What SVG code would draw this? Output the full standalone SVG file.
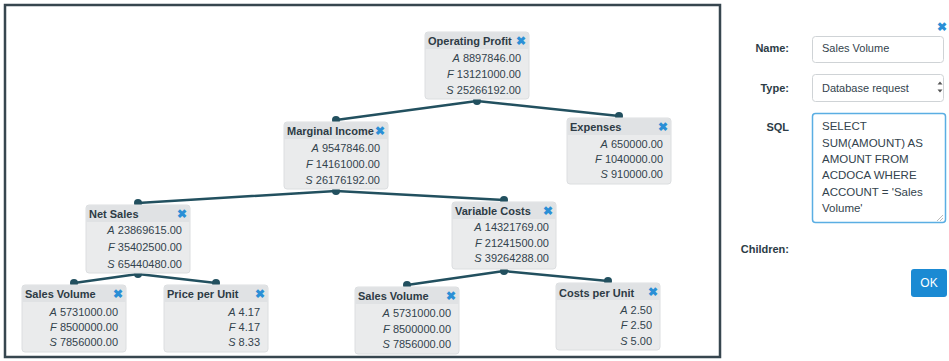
<svg xmlns="http://www.w3.org/2000/svg" width="949" height="361" viewBox="0 0 949 361">
<style>
text{font-family:"Liberation Sans",Arial,sans-serif;font-size:11px;fill:#33434d}
.box{fill:#eaebec;stroke:#dcdee0;stroke-width:1}
.hdr{fill:#e0e2e4}
.h{font-weight:bold;fill:#2d3b45}
.v{text-anchor:end}
.x{font-weight:bold;fill:#2a8fd6;font-size:12px;text-anchor:middle}
.i{font-style:italic}
.ln{stroke:#22505f;stroke-width:2.5;fill:none;stroke-linecap:round}
.dot{fill:#22505f}
.lbl{font-weight:bold;text-anchor:end;fill:#2c3c46}
.inp{fill:#fff;stroke:#cfd3d6;stroke-width:1}
</style>
<rect x="5" y="5" width="715" height="352" fill="#fff" stroke="#37464f" stroke-width="2.5"/>
<g id="connectors">
<path class="ln" d="M477 101L336 120M477 101L619 116M336 191L138 203M336 191L504 200M138 274L74 283M138 274L216 283M504 271L407 285M504 271L608 281"/>
<circle class="dot" cx="477" cy="101" r="4"/><circle class="dot" cx="336" cy="120" r="4"/><circle class="dot" cx="619" cy="116" r="4"/>
<circle class="dot" cx="336" cy="191" r="4"/><circle class="dot" cx="138" cy="203" r="4"/><circle class="dot" cx="504" cy="200" r="4"/>
<circle class="dot" cx="138" cy="274" r="4"/><circle class="dot" cx="74" cy="283" r="4"/><circle class="dot" cx="216" cy="283" r="4"/>
<circle class="dot" cx="504" cy="271" r="4"/><circle class="dot" cx="407" cy="285" r="4"/><circle class="dot" cx="608" cy="281" r="4"/>
</g>
<g id="n-op" transform="translate(425,32)">
<rect class="box" width="104" height="67" rx="3"/><path class="hdr" d="M3 0.5H101a2.5 2.5 0 0 1 2.5 2.5V17H0.5V3a2.5 2.5 0 0 1 2.5-2.5z"/>
<text class="h" x="3" y="13">Operating Profit</text><text class="x" x="96" y="13">✖</text>
<text class="v" x="96" y="30"><tspan class="i">A</tspan> 8897846.00</text>
<text class="v" x="96" y="46"><tspan class="i">F</tspan> 13121000.00</text>
<text class="v" x="96" y="62"><tspan class="i">S</tspan> 25266192.00</text>
</g>
<g id="n-mi" transform="translate(284,122)">
<rect class="box" width="104" height="67" rx="3"/><path class="hdr" d="M3 0.5H101a2.5 2.5 0 0 1 2.5 2.5V17H0.5V3a2.5 2.5 0 0 1 2.5-2.5z"/>
<text class="h" x="3" y="13">Marginal Income</text><text class="x" x="96" y="13">✖</text>
<text class="v" x="96" y="30"><tspan class="i">A</tspan> 9547846.00</text>
<text class="v" x="96" y="46"><tspan class="i">F</tspan> 14161000.00</text>
<text class="v" x="96" y="62"><tspan class="i">S</tspan> 26176192.00</text>
</g>
<g id="n-ex" transform="translate(567,118)">
<rect class="box" width="104" height="66" rx="3"/><path class="hdr" d="M3 0.5H101a2.5 2.5 0 0 1 2.5 2.5V17H0.5V3a2.5 2.5 0 0 1 2.5-2.5z"/>
<text class="h" x="3" y="13">Expenses</text><text class="x" x="96" y="13">✖</text>
<text class="v" x="96" y="30"><tspan class="i">A</tspan> 650000.00</text>
<text class="v" x="96" y="45"><tspan class="i">F</tspan> 1040000.00</text>
<text class="v" x="96" y="60"><tspan class="i">S</tspan> 910000.00</text>
</g>
<g id="n-ns" transform="translate(86,205)">
<rect class="box" width="104" height="68" rx="3"/><path class="hdr" d="M3 0.5H101a2.5 2.5 0 0 1 2.5 2.5V17H0.5V3a2.5 2.5 0 0 1 2.5-2.5z"/>
<text class="h" x="3" y="13">Net Sales</text><text class="x" x="96" y="13">✖</text>
<text class="v" x="96" y="29"><tspan class="i">A</tspan> 23869615.00</text>
<text class="v" x="96" y="46"><tspan class="i">F</tspan> 35402500.00</text>
<text class="v" x="96" y="63"><tspan class="i">S</tspan> 65440480.00</text>
</g>
<g id="n-vc" transform="translate(452,202)">
<rect class="box" width="104" height="67" rx="3"/><path class="hdr" d="M3 0.5H101a2.5 2.5 0 0 1 2.5 2.5V17H0.5V3a2.5 2.5 0 0 1 2.5-2.5z"/>
<text class="h" x="3" y="13">Variable Costs</text><text class="x" x="96" y="13">✖</text>
<text class="v" x="97" y="29"><tspan class="i">A</tspan> 14321769.00</text>
<text class="v" x="97" y="45"><tspan class="i">F</tspan> 21241500.00</text>
<text class="v" x="97" y="60"><tspan class="i">S</tspan> 39264288.00</text>
</g>
<g id="n-sv1" transform="translate(22,285)">
<rect class="box" width="104" height="67" rx="3"/><path class="hdr" d="M3 0.5H101a2.5 2.5 0 0 1 2.5 2.5V17H0.5V3a2.5 2.5 0 0 1 2.5-2.5z"/>
<text class="h" x="3" y="13">Sales Volume</text><text class="x" x="96" y="13">✖</text>
<text class="v" x="96" y="31"><tspan class="i">A</tspan> 5731000.00</text>
<text class="v" x="96" y="46"><tspan class="i">F</tspan> 8500000.00</text>
<text class="v" x="96" y="61"><tspan class="i">S</tspan> 7856000.00</text>
</g>
<g id="n-ppu" transform="translate(164,285)">
<rect class="box" width="104" height="67" rx="3"/><path class="hdr" d="M3 0.5H101a2.5 2.5 0 0 1 2.5 2.5V17H0.5V3a2.5 2.5 0 0 1 2.5-2.5z"/>
<text class="h" x="3" y="13">Price per Unit</text><text class="x" x="96" y="13">✖</text>
<text class="v" x="96" y="31"><tspan class="i">A</tspan> 4.17</text>
<text class="v" x="96" y="46"><tspan class="i">F</tspan> 4.17</text>
<text class="v" x="96" y="61"><tspan class="i">S</tspan> 8.33</text>
</g>
<g id="n-sv2" transform="translate(355,287)">
<rect class="box" width="104" height="67" rx="3"/><path class="hdr" d="M3 0.5H101a2.5 2.5 0 0 1 2.5 2.5V17H0.5V3a2.5 2.5 0 0 1 2.5-2.5z"/>
<text class="h" x="3" y="13">Sales Volume</text><text class="x" x="96" y="13">✖</text>
<text class="v" x="96" y="30"><tspan class="i">A</tspan> 5731000.00</text>
<text class="v" x="96" y="46"><tspan class="i">F</tspan> 8500000.00</text>
<text class="v" x="96" y="61"><tspan class="i">S</tspan> 7856000.00</text>
</g>
<g id="n-cpu" transform="translate(556,283)">
<rect class="box" width="104" height="67" rx="3"/><path class="hdr" d="M3 0.5H101a2.5 2.5 0 0 1 2.5 2.5V17H0.5V3a2.5 2.5 0 0 1 2.5-2.5z"/>
<text class="h" x="3" y="14">Costs per Unit</text><text class="x" x="97" y="13">✖</text>
<text class="v" x="96" y="31"><tspan class="i">A</tspan> 2.50</text>
<text class="v" x="96" y="46"><tspan class="i">F</tspan> 2.50</text>
<text class="v" x="96" y="62"><tspan class="i">S</tspan> 5.00</text>
</g>
<g id="panel">
<text class="x" x="942" y="31">✖</text>
<text class="lbl" x="789" y="52">Name:</text>
<rect class="inp" x="812.5" y="36.5" width="131" height="26" rx="3"/>
<text x="822" y="52">Sales Volume</text>
<text class="lbl" x="789" y="92">Type:</text>
<rect class="inp" x="812.5" y="74.5" width="131" height="27" rx="3"/>
<text x="822" y="92">Database request</text>
<path d="M937.5 84.5l2.5-3 2.5 3zM937.5 89.5l2.5 3 2.5-3z" fill="#555"/>
<text class="lbl" x="789" y="131">SQL</text>
<rect x="812.5" y="113.5" width="133" height="109" rx="3" fill="#fff" stroke="#5aaee3" stroke-width="1.5"/>
<path d="M943 218l-3 3M943 215l-6 6" stroke="#aaa" stroke-width="0.8"/>
<g font-size="11.5">
<text x="822" y="130" style="font-size:11.5px">SELECT</text>
<text x="822" y="147" style="font-size:11.5px">SUM(AMOUNT) AS</text>
<text x="822" y="163" style="font-size:11.5px">AMOUNT FROM</text>
<text x="822" y="179" style="font-size:11.5px">ACDOCA WHERE</text>
<text x="822" y="196" style="font-size:11.5px">ACCOUNT = 'Sales</text>
<text x="822" y="212" style="font-size:11.5px">Volume'</text>
</g>
<text class="lbl" x="789" y="253">Children:</text>
<rect x="911" y="269" width="36" height="28" rx="3" fill="#1b8ad3"/>
<text x="929" y="287" text-anchor="middle" style="fill:#fff;font-size:12px">OK</text>
</g>
</svg>
